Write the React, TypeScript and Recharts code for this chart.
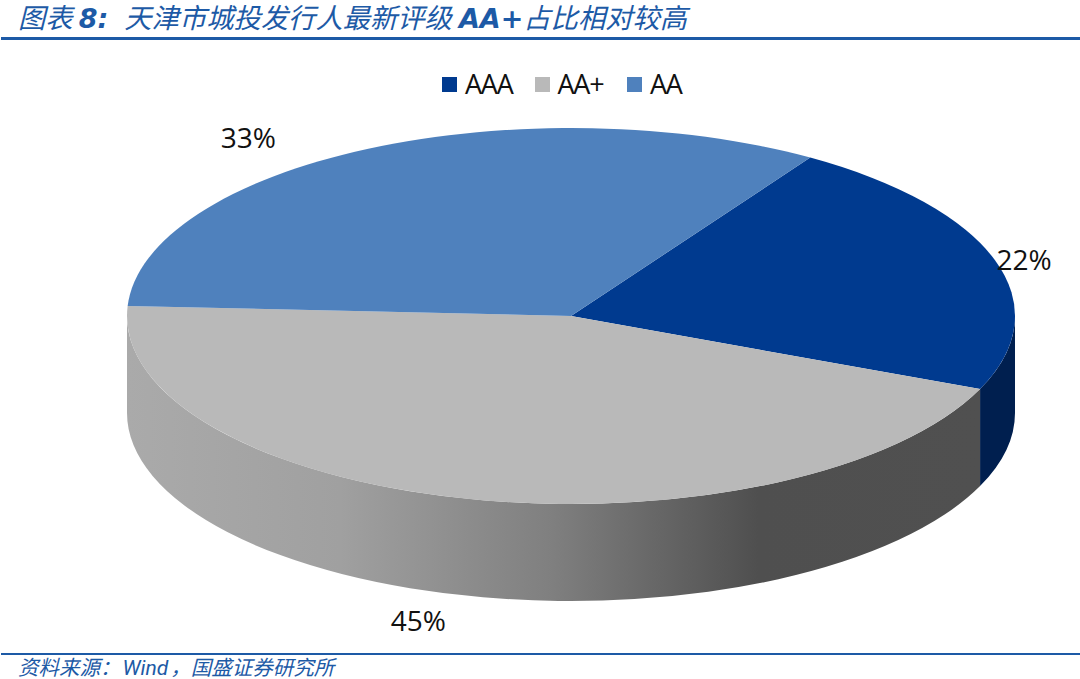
import {Pie, PieChart, Legend} from 'recharts';

const categories = ['AAA', 'AA+', 'AA'];
const shares = [22.3, 44.5, 33.2];
const topColors = ['#003a8f', '#b9b9b9', '#4f81bd'];
const wallFills = ['#001f4f', 'url(#wallGray)', '#2f4f78'];

const data = categories.map((name, i) => ({name, value: shares[i], fill: topColors[i]}));

const CX = 571;
const CY = 316;
const RADIUS = 444;
const TILT = 188 / 444;
const DEPTH = 97;
const START = 57.4;

const BLUE = '#1d5aa6';
const FONT = '"Open Sans", "Noto Sans", sans-serif';
const CJK = '"Noto Sans CJK SC", sans-serif';
const LATIN_BOLD = '"DejaVu Sans", sans-serif';

// label nudges from the rim point of each slice, excel puts them in odd places
const labelNudge = [
    {dx: 29, dy: -1},
    {dx: -53, dy: 121},
    {dx: -120, dy: -12},
];

const rim = (cx: number, cy: number, r: number, deg: number) => ({
    x: cx + r * Math.cos((deg * Math.PI) / 180),
    y: cy - r * TILT * Math.sin((deg * Math.PI) / 180),
});

function TopSlice(props: any) {
    const {cx, cy, outerRadius: r, startAngle, endAngle, fill} = props;
    const a = rim(cx, cy, r, startAngle);
    const b = rim(cx, cy, r, endAngle);
    const large = Math.abs(startAngle - endAngle) > 180 ? 1 : 0;
    return (
        <path
            d={`M${cx},${cy}L${a.x},${a.y}A${r},${r * TILT} 0 ${large} 1 ${b.x},${b.y}Z`}
            fill={fill}
        />
    );
}

function WallSlice(props: any) {
    const {cx, cy, outerRadius: r, startAngle, endAngle, index} = props;
    // only the front half of the rim shows, that is 0 to -180
    const norm = startAngle > 180 ? -360 : 0;
    const from = Math.min(startAngle + norm, 0);
    const to = Math.max(endAngle + norm, -180);
    if (from <= to) return <g/>;
    const a = rim(cx, cy, r, from);
    const b = rim(cx, cy, r, to);
    return (
        <path
            d={`M${a.x},${a.y}A${r},${r * TILT} 0 0 1 ${b.x},${b.y}L${b.x},${b.y + DEPTH}A${r},${r * TILT} 0 0 0 ${a.x},${a.y + DEPTH}Z`}
            fill={wallFills[index]}
        />
    );
}

function SliceLabel(props: any) {
    const {cx, cy, outerRadius: r, midAngle, index, value} = props;
    const p = rim(cx, cy, r, midAngle);
    return (
        <text
            x={p.x + labelNudge[index].dx}
            y={p.y + labelNudge[index].dy}
            textAnchor="middle"
            dominantBaseline="central"
            fontFamily={FONT}
            fontSize={28}
            fill="#111"
        >
            {Math.round(value)}%
        </text>
    );
}

function LegendRow() {
    return (
        <div style={{display: 'flex', fontFamily: FONT, fontSize: 27, color: '#111', lineHeight: '30px'}}>
            {categories.map((name, i) => (
                <div key={name} style={{display: 'flex', alignItems: 'center', width: 92.5}}>
                    <span style={{width: 15, height: 15, background: topColors[i], marginRight: 8}}/>
                    <span style={{letterSpacing: -1.2}}>{name}</span>
                </div>
            ))}
        </div>
    );
}

export default function App() {
    return (
        <div style={{position: 'absolute', left: 0, top: 0, width: 1080, height: 679, background: '#fff', overflow: 'hidden'}}>
            <div style={{position: 'absolute', left: 18, top: 0, whiteSpace: 'nowrap', color: BLUE, fontFamily: CJK, fontStyle: 'italic', fontSize: 27.3, lineHeight: '32px'}}>
                图表 <b style={{fontFamily: LATIN_BOLD, fontSize: 27}}>8:</b>
                <span style={{marginLeft: 16}}>天津市城投发行人最新评级</span>
                <b style={{fontFamily: LATIN_BOLD, fontSize: 27, margin: '0 0 0 7px'}}>AA+</b>
                <span>占比相对较高</span>
            </div>
            <div style={{position: 'absolute', left: 1, right: 0, top: 37, height: 3, background: BLUE}}/>
            <PieChart width={1080} height={679} margin={{top: 0, right: 0, bottom: 0, left: 0}}>
                <defs>
                    <linearGradient id="wallGray" gradientUnits="userSpaceOnUse" x1={127} y1={0} x2={980} y2={0}>
                        <stop offset="0" stopColor="#aaaaaa"/>
                        <stop offset="0.25" stopColor="#a0a0a0"/>
                        <stop offset="0.5" stopColor="#7f7f7f"/>
                        <stop offset="0.74" stopColor="#4f4f4f"/>
                        <stop offset="1" stopColor="#505050"/>
                    </linearGradient>
                </defs>
                {/* middle + center keeps the legend from pushing the pie, wrapperStyle places it */}
                <Legend content={LegendRow as any} layout="horizontal" verticalAlign="middle" align="center"
                        wrapperStyle={{left: 442, top: 69, width: 300}}/>
                <Pie data={data} dataKey="value" nameKey="name" cx={CX} cy={CY} outerRadius={RADIUS}
                     startAngle={START} endAngle={START - 360} stroke="none" legendType="none"
                     shape={WallSlice} isAnimationActive={false}/>
                <Pie data={data} dataKey="value" nameKey="name" cx={CX} cy={CY} outerRadius={RADIUS}
                     startAngle={START} endAngle={START - 360} stroke="none"
                     shape={TopSlice} label={SliceLabel} labelLine={false} isAnimationActive={false}/>
            </PieChart>
            <div style={{position: 'absolute', left: 1, right: 0, top: 653, height: 2, background: BLUE}}/>
            <div style={{position: 'absolute', left: 18, top: 654, whiteSpace: 'nowrap', color: BLUE, fontFamily: CJK, fontStyle: 'italic', fontSize: 20.5, lineHeight: '24px'}}>
                资料来源{'\uFF1A'}<span style={{fontFamily: 'Roboto, sans-serif', fontSize: 21, margin: '0 2px'}}>Wind</span>{'\uFF0C'}国盛证券研究所
            </div>
        </div>
    );
}
